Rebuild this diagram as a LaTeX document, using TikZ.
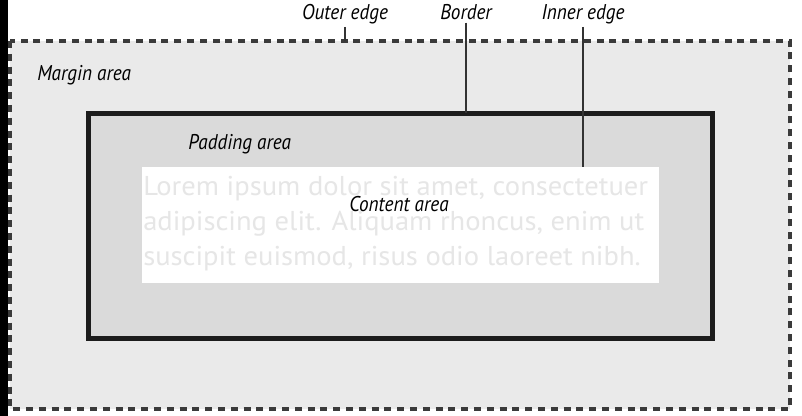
\documentclass[tikz,border=0pt]{standalone}
\usepackage{fontspec}
\newfontfamily\lblfont[FakeStretch=0.90]{PT Sans}
\newfontfamily\loremfont[FakeStretch=1.05]{PT Sans}
\definecolor{margingray}{HTML}{EAEAEA}
\definecolor{paddinggray}{HTML}{DADADA}
\definecolor{bordercol}{HTML}{1C1C1C}
\definecolor{dashcol}{HTML}{3A3A3A}
\definecolor{loremcol}{HTML}{E6E6E6}
\definecolor{leadcol}{HTML}{333333}
\tikzset{
  lbl/.style={font=\lblfont\itshape\fontsize{16}{18}\selectfont, inner sep=0pt, text=black},
  lorem/.style={font=\loremfont\fontsize{20.4}{22}\selectfont, inner sep=0pt, text=loremcol, anchor=base west},
  leader/.style={draw=leadcol, line width=1.1pt},
}
\begin{document}
\begin{tikzpicture}[x=0.75pt,y=-0.75pt]
\useasboundingbox (0,0) rectangle (802,416);
\fill[white] (0,0) rectangle (802,416);
\fill[black] (0,0) rectangle (8,416);
% margin area
\coordinate (mtl) at (10,41);
\coordinate (mbr) at (790,409);
\fill[margingray] (mtl) rectangle (mbr);
\draw[dashcol, line width=2.5pt, dash pattern=on 5.2pt off 4.4pt] (mtl) rectangle (mbr);
% border / padding
\coordinate (btl) at (88.5,113.5);
\coordinate (bbr) at (712.5,338.5);
\draw[bordercol, fill=paddinggray, line width=3.8pt] (btl) rectangle (bbr);
% content
\coordinate (ctl) at (142,167);
\coordinate (cbr) at (659,283);
\fill[white] (ctl) rectangle (cbr);
\node[lorem] (l1) at (143,196) {Lorem ipsum dolor sit amet, consectetuer};
\node[lorem] (l2) at (143,231) {adipiscing elit. Aliquam rhoncus, enim ut};
\node[lorem] (l3) at (143,266) {suscipit euismod, risus odio laoreet nibh.};
% labels
\node[lbl, anchor=base] (outer) at (345,20) {Outer edge};
\node[lbl, anchor=base] (border) at (466,20) {Border};
\node[lbl, anchor=base] (inner) at (583,20) {Inner edge};
\node[lbl, anchor=base west] (margin) at (37,81) {Margin area};
\node[lbl, anchor=base west] (padding) at (188,150) {Padding area};
\node[lbl, anchor=base] (content) at (399,212) {Content area};
% leaders
\draw[leader] ([yshift=-1.5pt]outer.south) -- (outer.south |- mtl);
\draw[leader] ([yshift=-1.5pt]border.south) -- (border.south |- btl);
\draw[leader] ([yshift=-1.5pt]inner.south) -- (inner.south |- ctl);
\end{tikzpicture}
\end{document}
